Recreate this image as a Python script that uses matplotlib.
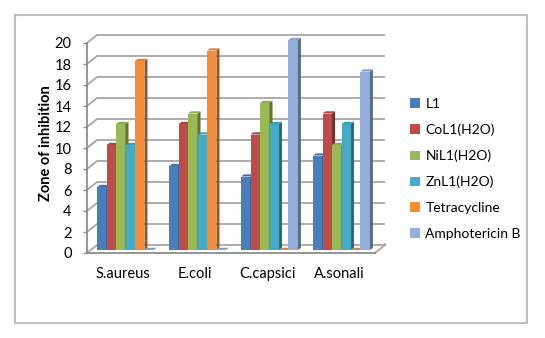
import matplotlib
matplotlib.use("Agg")
import matplotlib.pyplot as plt
from matplotlib.patches import Polygon, Patch, Rectangle
import matplotlib.colors as mcolors

categories = ["S.aureus", "E.coli", "C.capsici", "A.sonali"]
series_names = ["L1", "CoL1(H2O)", "NiL1(H2O)", "ZnL1(H2O)", "Tetracycline", "Amphotericin B"]
L1 = [6, 8, 7, 9]
CoL1 = [10, 12, 11, 13]
NiL1 = [12, 13, 14, 10]
ZnL1 = [10, 11, 12, 12]
Tetracycline = [18, 19, 0, 0]
AmphotericinB = [0, 0, 20, 17]
series_values = [L1, CoL1, NiL1, ZnL1, Tetracycline, AmphotericinB]
colors = ["#4A7EBB", "#BE4B48", "#98B954", "#46AAC5", "#F68C36", "#94AEDA"]
yticks = list(range(0, 21, 2))

plt.rcParams['font.family'] = ['Lato', 'DejaVu Sans']

W, H = 545, 338
fig = plt.figure(figsize=(W / 100, H / 100), dpi=100)

# pixel scale helpers (layout constants)
px_x = 72.0   # px per category unit
px_y = 10.5   # px per value unit
ax_left, ax_right, ax_top, ax_bot = 87, 387, 30, 256
ax = fig.add_axes([ax_left / W, 1 - ax_bot / H, (ax_right - ax_left) / W, (ax_bot - ax_top) / H])
ax.set_xlim(-0.5, 3.5 + (ax_right - 375) / px_x)
ax.set_ylim(-(ax_bot - 253) / px_y, 20 + (43 - ax_top) / px_y)

ddx = 10 / px_x   # wall depth
ddy = 8 / px_y
bdx = 3 / px_x    # bar depth
bdy = 2.2 / px_y
offx = 2.5 / px_x
offy = 3 / px_y

grid_c = "#A6A6A6"
# back wall gridlines and left wall
for y in yticks:
    ax.plot([-0.5 + ddx, 3.5 + ddx], [y + ddy, y + ddy], color=grid_c, lw=1.3, zorder=1, solid_capstyle='butt')
    ax.plot([-0.5, -0.5 + ddx], [y, y + ddy], color=grid_c, lw=1.3, zorder=1)
# floor right edge
ax.plot([3.5, 3.5 + ddx], [0, ddy], color=grid_c, lw=1.3, zorder=1)
ax.plot([3.5 + ddx, 3.5 + ddx], [ddy, ddy + 0.1], color=grid_c, lw=1.3, zorder=1)

n = len(series_values)
w = 0.79 / n
z = 3
for i in range(len(categories)):
    for j, vals in enumerate(series_values):
        v = vals[i]
        x0 = i - 0.395 + j * w + offx
        y0 = offy
        c = mcolors.to_rgb(colors[j])
        side = tuple(k * 0.62 for k in c)
        top = tuple(min(1, k * 0.92) for k in c)
        ax.bar(x0, v, width=w, bottom=y0, align='edge', color=colors[j], zorder=z, linewidth=0)
        ax.add_patch(Polygon([(x0 + w, y0), (x0 + w + bdx, y0 + bdy), (x0 + w + bdx, y0 + v + bdy), (x0 + w, y0 + v)],
                             closed=True, facecolor=side, edgecolor='none', zorder=z))
        ax.add_patch(Polygon([(x0, y0 + v), (x0 + bdx, y0 + v + bdy), (x0 + w + bdx, y0 + v + bdy), (x0 + w, y0 + v)],
                             closed=True, facecolor=top, edgecolor='none', zorder=z))
        z += 1

for s in ["top", "right"]:
    ax.spines[s].set_visible(False)
ax.spines['left'].set_bounds(0, 20)
ax.spines['left'].set_color("#8C8C8C")
ax.spines['left'].set_linewidth(1.3)
ax.spines['bottom'].set_position(('data', 0))
ax.spines['bottom'].set_bounds(-0.5, 3.5)
ax.spines['bottom'].set_color("#8C8C8C")
ax.spines['bottom'].set_linewidth(1.3)

ax.set_yticks(yticks)
ax.set_yticklabels([str(t) for t in yticks], fontsize=10.5)
ax.tick_params(axis='y', length=3, width=1, color="#8C8C8C", pad=8)
ax.set_xticks(range(len(categories)))
ax.set_xticklabels(categories, fontsize=10.5)
ax.tick_params(axis='x', length=0, pad=10)
ax.set_ylabel("Zone of inhibition", fontsize=10.5, fontweight='bold', labelpad=1)

handles = [Patch(facecolor=c, edgecolor='none') for c in colors]
fig.legend(handles, series_names, loc='upper left', bbox_to_anchor=(410 / W, 1 - 98 / H),
           frameon=False, fontsize=10, handlelength=0.7, handleheight=0.7, handletextpad=0.4,
           labelspacing=0.98, borderpad=0, borderaxespad=0)

fig.patches.append(Rectangle((15 / W, 1 - 323 / H), (527 - 15) / W, (323 - 15) / H,
                             transform=fig.transFigure, fill=False, edgecolor="#BFBFBF", lw=1.5))

fig.savefig("out.png", dpi=100)
